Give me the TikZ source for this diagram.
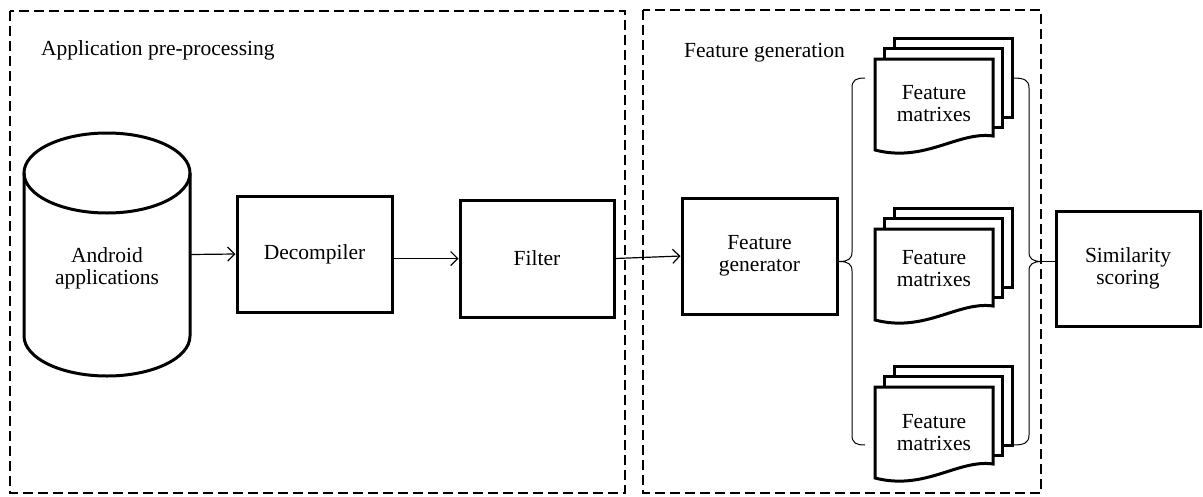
\documentclass[tikz,border=0pt]{standalone}
\usepackage{fontspec}
\setmainfont{Liberation Serif}
\usetikzlibrary{arrows.meta}
\begin{document}
\begin{tikzpicture}[x=1pt,y=-1pt,
  txt/.style={font=\fontsize{21.5}{22}\selectfont},
  blk/.style={draw, line width=3pt, align=center, inner sep=0pt, txt},
  grp/.style={draw, line width=2.8pt, dash pattern=on 10pt off 5pt},
  arr/.style={line width=1.2pt, -{Straight Barb[length=7pt,width=14pt,line width=1.2pt]}},
  conn/.style={line width=1.2pt},
  brc/.style={line width=1pt},
  lbl/.style={txt, anchor=west, inner sep=0pt},
  page/.style={draw, fill=white, line width=3pt, line join=miter},
  cylbody/.style={line width=3pt}
]
\useasboundingbox (0,0) rectangle (1203,496);

% group frames
\draw[grp] (10,11) rectangle (625,493);
\draw[grp] (643,10) rectangle (1041,493);
\node[lbl] (t1) at (41,50) {Application pre-processing};
\node[lbl] (t2) at (684,53) {Feature generation};

% cylinder
\draw[cylbody] (24,173) -- (24,336) arc[start angle=180,end angle=360,x radius=83pt,y radius=40pt] -- (190,173);
\draw[cylbody] (107,173) ellipse [x radius=83pt, y radius=40pt];
\node[inner sep=0pt, outer sep=0pt, minimum width=166pt, minimum height=243pt] (cyl) at (107,254.5) {};
\node[txt, align=center, inner sep=0pt] (cyltext) at (107,268) {Android\\applications};

% boxes
\node[blk, minimum width=155pt, minimum height=116pt] (dec) at (314.5,254) {Decompiler};
\node[blk, minimum width=154pt, minimum height=117pt] (fil) at (537,258.5) {Filter};
\node[blk, minimum width=155pt, minimum height=116pt] (gen) at (759.5,256) {Feature\\generator};
\node[blk, minimum width=144pt, minimum height=115pt] (sim) at (1128,268.5) {Similarity\\scoring};

% document stacks
\foreach \i/\y/\ty in {1/59/103.5, 2/229/268.5, 3/387/432.5} {
  \draw[page] (894,\y-21) rectangle (1012,\y+58);
  \draw[page] (884.5,\y-11) rectangle (1002.5,\y+68);
  \draw[page] (875,\y+91) -- (875,\y) -- (993,\y) -- (993,\y+77)
     .. controls (958,\y+72) and (925,\y+104) .. (875,\y+91) -- cycle;
  \node[txt, align=center, inner sep=0pt] (m\i) at (934,\ty) {Feature\\matrixes};
}

% braces
\coordinate (lb) at (839,261.5);
\coordinate (rb) at (1042,261.5);
\draw[brc] (865,78) .. controls (856,78) and (852,80) .. (852,88) -- (852,252)
   .. controls (852,259) and (848,261.5) .. (lb)
   .. controls (848,261.5) and (852,264) .. (852,271) -- (852,435)
   .. controls (852,443) and (856,445) .. (865,445);
\draw[brc] (1013,78) .. controls (1024,78) and (1029,80) .. (1029,88) -- (1029,252)
   .. controls (1029,259) and (1033,261.5) .. (rb)
   .. controls (1033,261.5) and (1029,264) .. (1029,271) -- (1029,435)
   .. controls (1029,443) and (1024,445) .. (1013,445);

% connectors
\draw[arr] (cyl.east) -- (dec.west);
\draw[arr] (dec.east |- fil.west) -- (fil.west);
\draw[arr] (fil.east) -- (gen.west);
\draw[conn] (gen.east |- lb) -- (lb);
\draw[conn] (rb) -- (sim.west |- rb);
\end{tikzpicture}
\end{document}
